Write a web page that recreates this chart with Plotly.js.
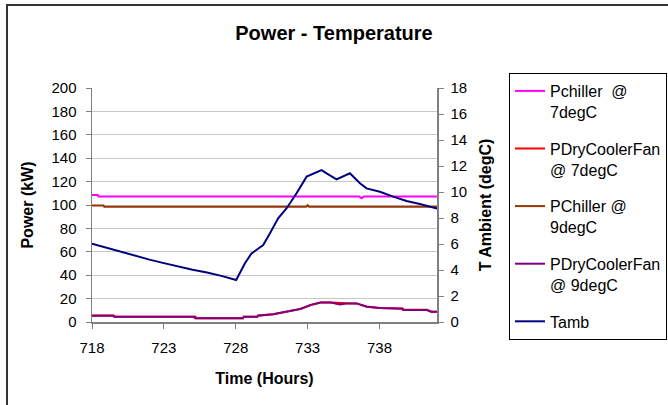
<!DOCTYPE html>
<html>
<head>
<meta charset="utf-8">
<script src="https://cdn.plot.ly/plotly-3.0.1.min.js"></script>
<style>
  html, body { margin: 0; padding: 0; background: #fff; }
  #wrap { position: relative; width: 668px; height: 405px; overflow: hidden; }
  #chart { width: 668px; height: 405px; }
  #frame { position: absolute; left: 6px; top: 4px; width: 700px; height: 500px;
           border: 2px solid #333; pointer-events: none; box-sizing: border-box; }
</style>
</head>
<body>
<div id="wrap">
  <div id="chart"></div>
  <div id="frame"></div>
</div>
<script>
// ---- Data ----
const tambHours = [718, 719, 720, 721, 722, 723, 724, 725, 726, 727, 728.03, 728.64, 729.1, 729.91, 730.38, 730.95, 731.54, 732.23, 732.93, 733.16, 733.97, 734.32, 735.01, 735.94, 736.64, 737.1, 738.03, 738.95, 739.88, 740.81, 742];
const tambDegC  = [6.02, 5.7, 5.38, 5.08, 4.8, 4.53, 4.26, 4.02, 3.8, 3.55, 3.23, 4.52, 5.28, 5.92, 6.82, 7.98, 8.75, 9.9, 11.18, 11.3, 11.68, 11.44, 10.97, 11.44, 10.67, 10.28, 10.02, 9.64, 9.31, 9.08, 8.72];

const pChiller7Hours = [718, 718.4, 718.45, 736.6, 736.75, 736.9, 742];
const pChiller7kW    = [108.6, 108.6, 107.2, 107.2, 105.8, 107.2, 107.2];

const pChiller9Hours = [718, 718.8, 718.85, 732.9, 733.0, 733.1, 742];
const pChiller9kW    = [99.5, 99.5, 98.6, 98.6, 99.8, 98.6, 98.6];

const pDry7Hours = [718, 719.5, 719.55, 725.1, 725.15, 728.5, 728.55, 729.5, 729.55, 730.6, 731.5, 732.5, 733.2, 733.9, 734.6, 735.25, 735.7, 736.4, 737.1, 738, 739.6, 739.65, 741.3, 741.6, 742];
const pDry7kW    = [5.5, 5.5, 4.4, 4.4, 3.2, 3.2, 4.4, 4.4, 5.5, 6.7, 8.8, 11.2, 14.5, 16.7, 16.7, 16.0, 16.0, 15.9, 13.2, 12.0, 11.6, 10.4, 10.4, 8.8, 8.8];

const pDry9Hours = [718, 719.5, 719.55, 725.2, 725.25, 728.5, 728.55, 729.5, 729.55, 730.6, 731.5, 732.5, 733.2, 733.9, 734.6, 735.25, 735.7, 736.4, 737.1, 738, 739.6, 739.65, 741.3, 741.6, 742];
const pDry9kW    = [5.4, 5.4, 4.4, 4.4, 3.3, 3.3, 4.4, 4.4, 5.4, 6.6, 8.7, 11.1, 14.4, 16.6, 16.6, 15.0, 15.9, 15.9, 13.1, 11.9, 11.4, 10.3, 10.3, 8.8, 8.8];

const seriesNames = ["Pchiller  @<br>7degC", "PDryCoolerFan<br>@ 7degC", "PChiller @<br>9degC", "PDryCoolerFan<br>@ 9degC", "Tamb"];
const xTicks = [718, 723, 728, 733, 738];

// ---- Chart ----
const FONT = "Arial, 'Liberation Sans', sans-serif";
const traces = [
  { x: pChiller7Hours, y: pChiller7kW, name: seriesNames[0], legendgroup: "a", mode: "lines", line: { color: "#FF00FF", width: 2 } },
  { x: pDry7Hours, y: pDry7kW, name: seriesNames[1], legendgroup: "b", mode: "lines", line: { color: "#FF0000", width: 2 } },
  { x: pChiller9Hours, y: pChiller9kW, name: seriesNames[2], legendgroup: "c", mode: "lines", line: { color: "#993300", width: 2 } },
  { x: pDry9Hours, y: pDry9kW, name: seriesNames[3], legendgroup: "d", mode: "lines", line: { color: "#800080", width: 2 } },
  { x: tambHours, y: tambDegC, name: seriesNames[4], legendgroup: "e", mode: "lines", yaxis: "y2", line: { color: "#000080", width: 2 } }
];

const layout = {
  width: 668, height: 405,
  paper_bgcolor: "rgba(0,0,0,0)", plot_bgcolor: "rgba(0,0,0,0)",
  margin: { l: 92, r: 231, t: 88, b: 83, autoexpand: false },
  font: { family: FONT, size: 15, color: "#000" },
  title: { text: "<b>Power - Temperature</b>", font: { family: FONT, size: 20, color: "#000" },
           x: 0.5, xref: "container", y: 1 - 33 / 405, yref: "container", yanchor: "middle" },
  xaxis: {
    range: [718, 742], tickvals: xTicks, ticktext: xTicks.map(String),
    ticks: "outside", ticklen: 5, tickcolor: "#808080",
    showline: true, linecolor: "#808080", linewidth: 1.5, showgrid: false, zeroline: false,
    tickfont: { size: 15 }, ticklabelstandoff: 6,
    title: { text: "<b>Time (Hours)</b>", font: { size: 16 }, standoff: 18 }
  },
  yaxis: {
    range: [0, 200], dtick: 20, ticks: "outside", ticklen: 5, tickcolor: "#808080",
    showline: true, linecolor: "#808080", linewidth: 1.5,
    showgrid: true, gridcolor: "#C8C8C8", gridwidth: 1, zeroline: false,
    tickfont: { size: 15 }, ticklabelstandoff: 6,
    title: { text: "<b>Power (kW)</b>", font: { size: 16 }, standoff: 14 }
  },
  yaxis2: {
    range: [0, 18], dtick: 2, overlaying: "y", side: "right",
    ticks: "outside", ticklen: 5, tickcolor: "#808080",
    showline: true, linecolor: "#808080", linewidth: 1.5, showgrid: false, zeroline: false,
    tickfont: { size: 15 }, ticklabelstandoff: 4,
    title: { text: "<b>T Ambient (degC)</b>", font: { size: 16 }, standoff: 13 }
  },
  yaxis3: {
    range: [0, 18], dtick: 2, overlaying: "y", side: "right",
    ticks: "inside", ticklen: 5, tickcolor: "#808080", showticklabels: false,
    showline: false, showgrid: false, zeroline: false
  },
  showlegend: true,
  legend: {
    x: (509 - 92) / 345, xanchor: "left", xref: "paper",
    y: (322 - 73) / 234, yanchor: "top", yref: "paper",
    bgcolor: "#fff", bordercolor: "#000", borderwidth: 1,
    font: { family: FONT, size: 16, color: "#000" },
    valign: "top", tracegroupgap: 13, traceorder: "grouped", maxheight: 1000
  }
};

Plotly.newPlot("chart", traces, layout, { staticPlot: true, displayModeBar: false });
</script>
</body>
</html>
